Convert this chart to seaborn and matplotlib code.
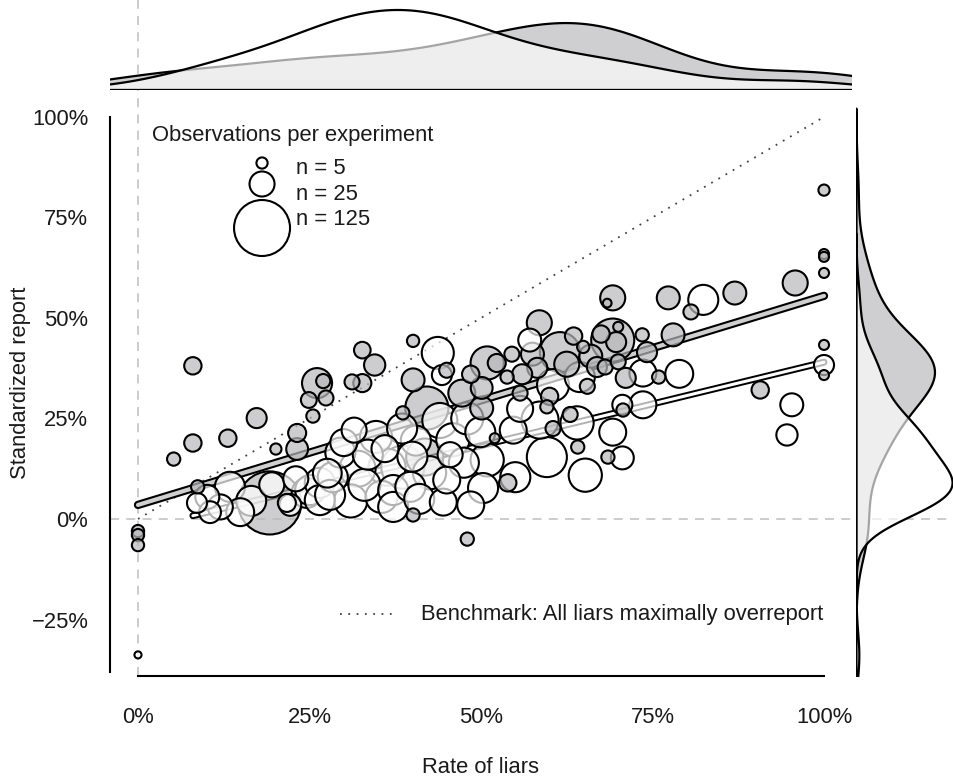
import matplotlib
matplotlib.use("Agg")
import matplotlib.pyplot as plt
import numpy as np
import pandas as pd
import seaborn as sns

# Experiments with a shaded marker: rate of liars (%), standardized report (%), observations
filled_rate = [0, 0, 0, 5.2, 8.0, 8.0, 8.7, 13.1, 17.3, 19.2, 20.1, 23.2, 23.2, 24.9,
               25.5, 26.1, 27.0, 27.4, 31.2, 32.7, 32.7, 34.5, 38.6, 40.1, 40.1, 40.1,
               41.8, 42.1, 47.2, 48.0, 50.1, 50.1, 50.9, 52.0, 52.3, 53.8, 53.9, 55.7,
               58.2, 58.5, 59.6, 61.5, 64.1, 64.9, 66.9, 68.1, 68.4, 68.5, 69.2, 69.2,
               69.7, 70.0, 70.0, 70.7, 71.1, 73.5, 74.2, 75.9, 77.3, 78.0, 80.6, 87.0,
               90.7, 95.8, 100, 100, 100, 100, 100, 100,
               56.0, 57.5, 60.0, 62.5, 63.5, 65.5, 66.0, 67.5, 63.0, 60.5, 54.5, 48.5,
               45.0]
filled_report = [-3.0, -4.0, -6.5, 14.9, 38.1, 18.9, 8.0, 20.1, 25.1, 4.0, 17.4, 17.4,
                 21.4, 29.6, 25.6, 33.8, 34.3, 30.1, 34.1, 42.0, 33.8, 38.3, 26.4, 44.3,
                 34.6, 1.0, 15.4, 27.6, 31.3, -5.0, 32.6, 27.6, 38.8, 20.1, 38.8, 35.3,
                 9.0, 31.3, 37.6, 48.8, 27.9, 41.5, 17.9, 42.8, 37.8, 37.8, 53.7, 15.4,
                 55.0, 44.5, 44.0, 47.8, 39.1, 27.1, 35.1, 45.8, 41.5, 35.3, 55.0, 45.8,
                 51.5, 56.2, 32.1, 58.7, 81.8, 65.9, 65.2, 61.2, 43.3, 35.8,
                 36.0, 41.0, 30.5, 38.5, 45.5, 33.0, 40.5, 46.0, 26.0, 22.5, 41.0, 36.0,
                 37.0]
filled_n = [6, 6, 6, 7, 12, 12, 7, 12, 16, 159, 5, 19, 13, 10, 7, 36, 8, 9, 9, 11, 13,
            18, 7, 6, 21, 7, 55, 74, 29, 7, 19, 21, 44, 4, 13, 7, 12, 9, 16, 25, 7, 64,
            7, 6, 16, 9, 3, 7, 25, 74, 16, 4, 9, 7, 16, 7, 16, 7, 21, 21, 9, 21, 12, 25,
            5, 4, 4, 4, 4, 4,
            16, 21, 12, 25, 12, 9, 21, 12, 9, 9, 9, 12, 9]

# Experiments with an open marker
open_rate = [0, 8.6, 10.1, 10.5, 13.4, 14.9, 21.7, 22.2, 24.6, 25.1, 26.5, 26.5, 27.6,
             28.4, 31.0, 31.5, 32.0, 34.7, 36.3, 37.2, 37.2, 38.6, 39.7, 43.7, 44.3,
             44.5, 45.0, 45.9, 49.9, 50.3, 50.9, 54.7, 55.0, 55.7, 57.1, 58.6, 59.6,
             60.5, 64.0, 64.4, 65.2, 69.2, 70.6, 70.6, 73.6, 73.6, 78.9, 82.4, 94.6,
             95.3, 100,
             16.5, 19.5, 12.0, 29.5, 33.5, 35.5, 41.0, 42.5, 40.5, 44.0, 47.5, 48.5,
             48.0, 38.5, 45.5, 28.0, 33.0, 36.0, 23.0, 30.0, 40.0]
open_report = [-33.8, 4.0, 5.5, 1.7, 8.0, 1.7, 4.0, 3.5, 6.5, 7.2, 9.0, 4.7, 11.4, 10.4,
               4.5, 22.1, 12.5, 20.4, 12.9, 7.2, 3.0, 12.9, 8.0, 41.3, 35.8, 4.2, 9.7,
               19.7, 21.6, 7.7, 14.7, 22.1, 10.4, 27.4, 44.5, 24.6, 15.4, 33.3, 23.9,
               35.3, 10.9, 21.6, 28.4, 15.2, 36.3, 28.4, 36.1, 54.5, 20.9, 28.4, 38.3,
               4.5, 8.5, 3.0, 16.5, 16.0, 5.5, 5.0, 11.5, 19.5, 24.5, 14.0, 3.5,
               25.0, 22.5, 16.0, 6.0, 8.5, 17.5, 10.0, 19.0, 15.5]
open_n = [2, 16, 23, 19, 36, 31, 13, 19, 36, 36, 36, 36, 33, 36, 44, 25, 52, 41, 55, 36,
          36, 74, 36, 41, 16, 29, 29, 44, 36, 36, 44, 29, 36, 27, 21, 55, 64, 41, 44, 36,
          44, 29, 16, 21, 29, 29, 31, 36, 18, 21, 16,
          36, 25, 25, 36, 36, 41, 36, 44, 36, 49, 36, 29, 41, 36, 25, 36, 41, 29, 25,
          29, 36]

# Weighted fits per group: intercept, slope and fitted range of rate of liars
fit_intercept = [3.5, -2.5]
fit_slope = [0.52, 0.415]
fit_from = [0, 8]
fit_to = [100, 100]

x_ticks = [0, 25, 50, 75, 100]
y_ticks = [-25, 0, 25, 50, 75, 100]
legend_n = [5, 25, 125]

groups = ["filled", "open"]
marker_fill = {"filled": (0.72, 0.725, 0.735, 0.7), "open": (1.0, 1.0, 1.0, 0.7)}
line_inner = {"filled": "#cfcfcf", "open": "white"}
PT2_PER_OBS = 13.0  # marker area (pt^2) per observation
FS = 15.8

sns.set_style("white")
plt.rcParams["font.family"] = ["Liberation Sans", "DejaVu Sans"]
plt.rcParams["font.size"] = FS

W, H = 954, 780
fig = plt.figure(figsize=(W / 100, H / 100), dpi=100)


def rect(l, t, r, b):
    return [l / W, 1 - b / H, (r - l) / W, (b - t) / H]


ax = fig.add_axes(rect(110, 90, 852, 676))
ax_top = fig.add_axes(rect(110, 0, 852, 90), sharex=ax)
ax_right = fig.add_axes(rect(856, 90, 954, 676), sharey=ax)

df = pd.concat([
    pd.DataFrame({"rate": filled_rate, "report": filled_report, "n": filled_n, "group": "filled"}),
    pd.DataFrame({"rate": open_rate, "report": open_report, "n": open_n, "group": "open"}),
], ignore_index=True)

# reference lines
dash = (0, (5, 4))
ref_col = "#c8c8c8"
ax.axhline(0, color=ref_col, lw=1.3, ls=dash, zorder=0)
ax.axvline(0, color=ref_col, lw=1.3, ls=dash, zorder=0)
ax_top.axvline(0, color=ref_col, lw=1.3, ls=dash, zorder=0)
ax_right.axhline(0, color=ref_col, lw=1.3, ls=dash, zorder=0)

# benchmark: all liars maximally overreport
ax.plot([0, 100], [0, 100], color="#444444", lw=1.3, ls=(0, (1, 3.6)), zorder=1)

# fitted lines
for g, a, b, x0, x1 in zip(groups, fit_intercept, fit_slope, fit_from, fit_to):
    xs = np.array([x0, x1], dtype=float)
    ys = a + b * xs
    wide = 6.0 if g == "filled" else 5.0
    thin = 3.0 if g == "filled" else 2.2
    ax.plot(xs, ys, color="black", lw=wide, solid_capstyle="round", zorder=2)
    ax.plot(xs, ys, color=line_inner[g], lw=thin, solid_capstyle="round", zorder=2.1)

# bubbles, largest first so small experiments stay visible
dfs = df.sort_values("n", ascending=False, kind="stable").reset_index(drop=True)
nmin, nmax = dfs["n"].min(), dfs["n"].max()
sns.scatterplot(data=dfs, x="rate", y="report", hue="group", size="n",
                sizes=(PT2_PER_OBS * nmin, PT2_PER_OBS * nmax), size_norm=(nmin, nmax),
                palette={g: marker_fill[g][:3] for g in groups},
                edgecolor="black", linewidth=1.5, legend=False, ax=ax, zorder=3)
coll = ax.collections[-1]
coll.set_facecolors([marker_fill[g] for g in dfs["group"]])
coll.set_edgecolors("black")

# marginal densities
for g in groups:
    sub = df[df["group"] == g]
    col = "#cfcfd1" if g == "filled" else "white"
    alpha = 1.0 if g == "filled" else 0.65
    sns.kdeplot(x=sub["rate"], fill=True, color=col, alpha=alpha, edgecolor="black",
                linewidth=1.6, bw_adjust=0.9, ax=ax_top)
    sns.kdeplot(y=sub["report"], fill=True, color=col, alpha=alpha, edgecolor="black",
                linewidth=1.6, bw_adjust=1.0, ax=ax_right)

top_peak = ax_top.dataLim.y1
right_peak = ax_right.dataLim.x1

ax.set_xlim(-4.08, 104.08)
ax.set_ylim(-39.05, 106.7)
ax_top.set_ylim(0, top_peak / 0.889)
ax_right.set_xlim(0, right_peak / 0.98)
for a_ in (ax_top, ax_right):
    a_.axis("off")

# main axes styling
for s in ("top", "right"):
    ax.spines[s].set_visible(False)
for s in ("left", "bottom"):
    ax.spines[s].set_linewidth(1.5)
    ax.spines[s].set_color("black")
ax.spines["left"].set_bounds(-38, 100)
ax.spines["bottom"].set_bounds(0, 100)
ax.set_xticks(x_ticks, labels=[f"{t}%" for t in x_ticks])
ax.set_yticks(y_ticks, labels=[f"{t}%".replace("-", "\u2212") for t in y_ticks])
ax.tick_params(axis="both", length=8.6, width=1.5, color="black", labelsize=FS,
               labelcolor="#1a1a1a")
ax.tick_params(axis="y", pad=7)
ax.tick_params(axis="x", pad=14)
ax.set_xlabel("Rate of liars", fontsize=FS, color="#1a1a1a")
ax.set_ylabel("Standardized report", fontsize=FS, color="#1a1a1a")
ax.xaxis.set_label_coords(0.5, -0.138)
ax.yaxis.set_label_coords(-0.107, 0.5)

# size key
tr = ax.transAxes
ax.text(0.0566, 0.9232, "Observations per experiment", transform=tr, ha="left",
        va="center", fontsize=FS, color="#1a1a1a")
key_y = [0.8754, 0.8396, 0.7645]
lab_y = [0.8652, 0.8225, 0.7782]
ax.scatter([0.2049] * 3, key_y, s=[PT2_PER_OBS * n for n in legend_n], transform=tr,
           facecolor="white", edgecolor="black", linewidth=1.5, clip_on=False, zorder=4)
for n, yy in zip(legend_n, lab_y):
    ax.text(0.2507, yy, f"n = {n}", transform=tr, ha="left", va="center",
            fontsize=FS, color="#1a1a1a")

# benchmark key
ax.plot([0.31, 0.3814], [0.1058, 0.1058], transform=tr, color="#444444", lw=1.3,
        ls=(0, (1, 3.6)))
ax.text(0.4191, 0.1058, "Benchmark: All liars maximally overreport", transform=tr,
        ha="left", va="center", fontsize=FS, color="#1a1a1a")

fig.savefig("out.png", dpi=100)
